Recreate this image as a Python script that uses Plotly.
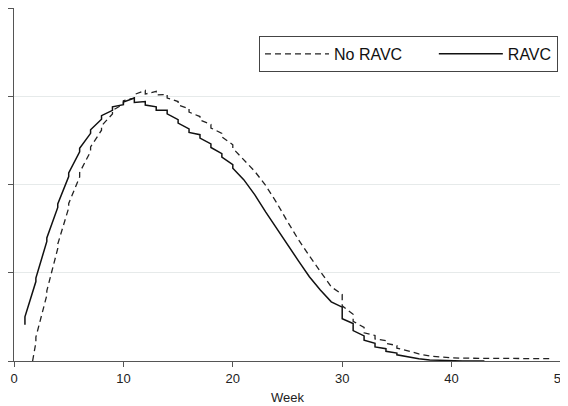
import plotly.graph_objects as go

# RAVC (solid): value arriving at each week and value leaving it (weekly jumps)
ravc_weeks = list(range(1, 44))
ravc_before = [0.41, 0.90, 1.355, 1.74, 2.09, 2.37, 2.58, 2.74, 2.84, 2.905,
               2.98, 2.94, 2.88, 2.84, 2.735, 2.63, 2.565, 2.46, 2.35, 2.225,
               2.055, 1.885, 1.69, 1.50, 1.32, 1.135, 0.955, 0.805, 0.67, 0.61,
               0.425, 0.285, 0.20, 0.14, 0.09, 0.045, 0.025, 0.012, 0.006, 0.003,
               0.001, 0.0, 0.0]
ravc_after = [0.50, 0.94, 1.395, 1.78, 2.13, 2.41, 2.62, 2.78, 2.88, 2.935,
              2.93, 2.90, 2.84, 2.80, 2.695, 2.59, 2.525, 2.42, 2.31, 2.185,
              2.055, 1.885, 1.69, 1.50, 1.32, 1.135, 0.955, 0.805, 0.67, 0.48,
              0.345, 0.235, 0.16, 0.11, 0.07, 0.045, 0.025, 0.012, 0.006, 0.003,
              0.001, 0.0, 0.0]

# No RAVC (dashed)
norav_weeks = [1.7] + list(range(2, 50))
norav_before = [0.0, 0.21, 0.745, 1.275, 1.735, 2.085, 2.375, 2.615, 2.80, 2.91,
                2.98, 3.065, 3.055, 3.02, 2.94, 2.86, 2.77, 2.68, 2.58, 2.45,
                2.28, 2.15, 1.99, 1.795, 1.58, 1.375, 1.19, 1.01, 0.84, 0.755,
                0.53, 0.38, 0.29, 0.23, 0.175, 0.115, 0.08, 0.057, 0.045, 0.035,
                0.032, 0.03, 0.03, 0.028, 0.028, 0.027, 0.027, 0.027, 0.027]
norav_after = [0.0, 0.27, 0.795, 1.325, 1.785, 2.135, 2.425, 2.665, 2.84, 2.95,
               3.02, 3.025, 3.015, 2.98, 2.90, 2.82, 2.73, 2.64, 2.54, 2.41,
               2.28, 2.15, 1.99, 1.795, 1.58, 1.375, 1.19, 1.01, 0.84, 0.625,
               0.45, 0.32, 0.25, 0.20, 0.145, 0.115, 0.08, 0.057, 0.045, 0.035,
               0.032, 0.03, 0.03, 0.028, 0.028, 0.027, 0.027, 0.027, 0.027]

x_ticks = [0, 10, 20, 30, 40, 50]
y_ticks = [0, 1, 2, 3, 4]


def steps(weeks, before, after):
    xs, ys = [], []
    for w, b, a in zip(weeks, before, after):
        xs += [w, w]
        ys += [b, a]
    return xs, ys


fig = go.Figure()
nx, ny = steps(norav_weeks, norav_before, norav_after)
rx, ry = steps(ravc_weeks, ravc_before, ravc_after)
fig.add_trace(go.Scatter(x=nx, y=ny, mode="lines",
                         name="No RAVC" + "&nbsp;" * 6,
                         line=dict(color="#222222", width=1.3, dash="6px,4px")))
fig.add_trace(go.Scatter(x=rx, y=ry, mode="lines", name="RAVC",
                         line=dict(color="#111111", width=1.5)))

fig.update_layout(
    width=560, height=398,
    margin=dict(l=6, r=7, t=0, b=45),
    paper_bgcolor="white", plot_bgcolor="white",
    font=dict(family="Liberation Sans, Arial, sans-serif", size=13, color="#222222"),
    showlegend=True,
    legend=dict(orientation="h", x=0.9945, xanchor="right", y=0.921, yanchor="top",
                bordercolor="#444444", borderwidth=1, bgcolor="white",
                font=dict(size=16, color="#111111"), itemwidth=64, tracegroupgap=0),
    xaxis=dict(range=[0, 50], tickvals=x_ticks, ticks="outside", ticklen=5,
               tickcolor="#555555", showline=True, linecolor="#555555", linewidth=1,
               showgrid=False, zeroline=False, automargin=False,
               ticklabeloverflow="allow",
               title=dict(text="Week", standoff=8, font=dict(size=13)),
               tickfont=dict(size=13)),
    yaxis=dict(range=[0, 4], tickvals=y_ticks, showticklabels=False, ticks="outside",
               ticklen=6, tickcolor="#555555", showline=True, linecolor="#555555",
               linewidth=1, showgrid=True, gridcolor="#e6eaea", zeroline=False,
               automargin=False),
)

fig.write_html("out.html")
